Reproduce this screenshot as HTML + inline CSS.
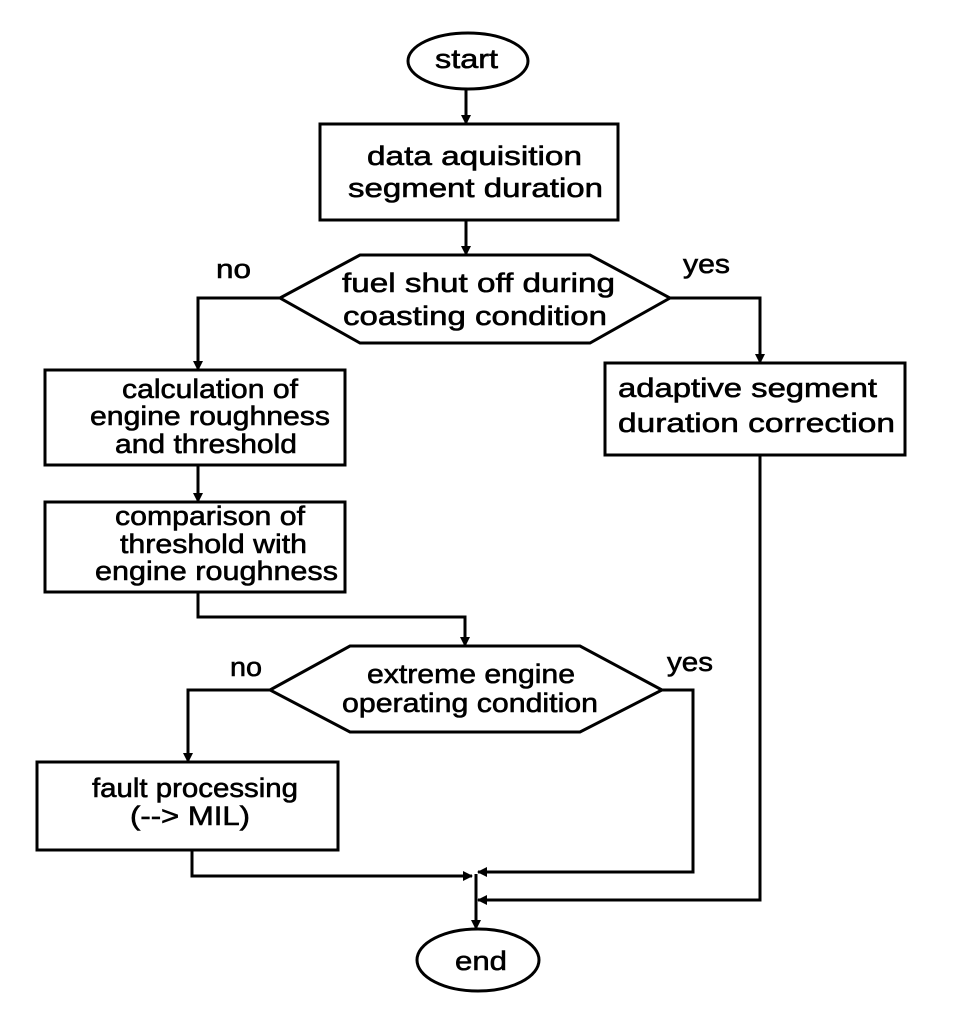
<!DOCTYPE html>
<html><head><meta charset="utf-8"><style>
html,body{margin:0;padding:0;background:#fff;}
svg{display:block;}
text{font-family:"Liberation Sans",Arial,sans-serif;font-size:27px;fill:#000;stroke:#000;stroke-width:0.6;}
</style></head><body>
<svg width="960" height="1028" viewBox="0 0 960 1028" xmlns="http://www.w3.org/2000/svg">
<defs>
<marker id="a" markerWidth="10" markerHeight="14" refX="9" refY="7" orient="auto" markerUnits="userSpaceOnUse">
<path d="M0,2 L10,7 L0,12 Z" fill="#000"/></marker>
</defs>
<g fill="none" stroke="#000" stroke-width="3">
<ellipse cx="468" cy="61" rx="60" ry="28"/>
<rect x="320" y="124" width="298" height="96"/>
<polygon points="280,298 360,255 590,255 670,298 590,343 360,343"/>
<rect x="45" y="370" width="300" height="95"/>
<rect x="45" y="502" width="300" height="90"/>
<rect x="605" y="363" width="300" height="92"/>
<polygon points="270,690 350,646 580,646 662,690 580,732 350,732"/>
<rect x="37" y="762" width="301" height="88"/>
<ellipse cx="478" cy="960" rx="61" ry="31"/>
<path d="M466,89 V124" marker-end="url(#a)"/>
<path d="M466,220 V255" marker-end="url(#a)"/>
<path d="M280,298 H198 V370" marker-end="url(#a)"/>
<path d="M670,298 H760 V363" marker-end="url(#a)"/>
<path d="M198,465 V502" marker-end="url(#a)"/>
<path d="M198,592 V617 H465 V646" marker-end="url(#a)"/>
<path d="M270,690 H188 V762" marker-end="url(#a)"/>
<path d="M662,690 H693 V872 H478" marker-end="url(#a)"/>
<path d="M192,850 V876 H472" marker-end="url(#a)"/>
<path d="M760,455 V900 H478" marker-end="url(#a)"/>
<path d="M476,874 V929" marker-end="url(#a)"/>
</g>
<text x="435" y="68" textLength="63" lengthAdjust="spacingAndGlyphs">start</text>
<text x="367" y="165" textLength="215" lengthAdjust="spacingAndGlyphs">data aquisition</text>
<text x="348" y="197" textLength="255" lengthAdjust="spacingAndGlyphs">segment duration</text>
<text x="342" y="292" textLength="273" lengthAdjust="spacingAndGlyphs">fuel shut off during</text>
<text x="343" y="325" textLength="264" lengthAdjust="spacingAndGlyphs">coasting condition</text>
<text x="216" y="278" textLength="35" lengthAdjust="spacingAndGlyphs">no</text>
<text x="683" y="273" textLength="47" lengthAdjust="spacingAndGlyphs">yes</text>
<text x="122" y="398" textLength="176" lengthAdjust="spacingAndGlyphs">calculation of</text>
<text x="90" y="425" textLength="240" lengthAdjust="spacingAndGlyphs">engine roughness</text>
<text x="115" y="453" textLength="182" lengthAdjust="spacingAndGlyphs">and threshold</text>
<text x="115" y="525" textLength="190" lengthAdjust="spacingAndGlyphs">comparison of</text>
<text x="120" y="553" textLength="187" lengthAdjust="spacingAndGlyphs">threshold with</text>
<text x="95" y="580" textLength="243" lengthAdjust="spacingAndGlyphs">engine roughness</text>
<text x="618" y="397" textLength="259" lengthAdjust="spacingAndGlyphs">adaptive segment</text>
<text x="618" y="432" textLength="277" lengthAdjust="spacingAndGlyphs">duration correction</text>
<text x="367" y="683" textLength="208" lengthAdjust="spacingAndGlyphs">extreme engine</text>
<text x="342" y="712" textLength="256" lengthAdjust="spacingAndGlyphs">operating condition</text>
<text x="230" y="676" textLength="32" lengthAdjust="spacingAndGlyphs">no</text>
<text x="667" y="671" textLength="46" lengthAdjust="spacingAndGlyphs">yes</text>
<text x="92" y="797" textLength="206" lengthAdjust="spacingAndGlyphs">fault processing</text>
<text x="130" y="825" textLength="120" lengthAdjust="spacingAndGlyphs">(--&gt; MIL)</text>
<text x="455" y="970" textLength="52" lengthAdjust="spacingAndGlyphs">end</text>
</svg>
</body></html>
